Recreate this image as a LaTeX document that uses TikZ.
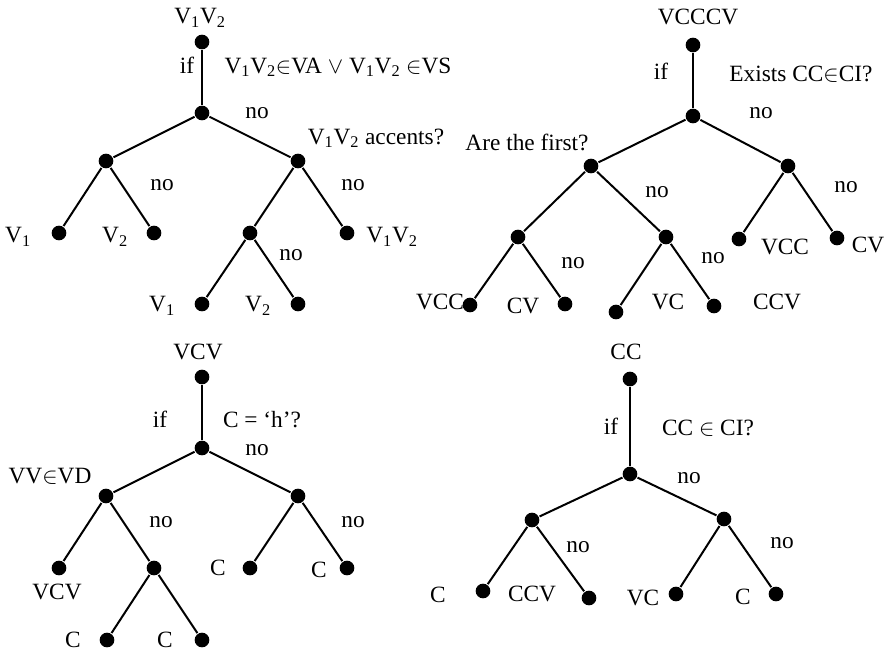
\documentclass[tikz,border=0pt]{standalone}
\usepackage{fontspec}
\setmainfont{Liberation Serif}

\tikzset{every picture/.style={line width=1.5pt}}
\tikzset{
  dot/.style={circle,fill=black,inner sep=0pt,minimum size=11pt},
  lbl/.style={inner sep=0.75pt,font=\fontsize{17.5}{20}\selectfont}
}

\begin{document}
\begin{tikzpicture}[x=0.75pt,y=0.75pt,yscale=-1,xscale=1]
\useasboundingbox (0,0) rectangle (892,651);
%%% Tree: V1V2 (top left)
% Dots
\node [dot] (a0) at (202,42) {};
\node [dot] (a1) at (202,113) {};
\node [dot] (aL) at (106,161) {};
\node [dot] (aR) at (298,161) {};
\node [dot] (aLL) at (59,233) {};
\node [dot] (aLR) at (154,233) {};
\node [dot] (aRL) at (250,233) {};
\node [dot] (aRR) at (347,233) {};
\node [dot] (aRLL) at (202,304) {};
\node [dot] (aRLR) at (298,304) {};
% Edges
\draw (a0) -- (a1);
\draw (a1) -- (aL);
\draw (a1) -- (aR);
\draw (aL) -- (aLL);
\draw (aL) -- (aLR);
\draw (aR) -- (aRL);
\draw (aR) -- (aRR);
\draw (aRL) -- (aRLL);
\draw (aRL) -- (aRLR);
% Text Node
\node [lbl] (ta0) at (200,18) {V\textsubscript{1}V\textsubscript{2}};
\node [lbl] (taif) at (187,65) {if};
\node [lbl] (taq1) at (338,67) {V\textsubscript{1}V\textsubscript{2}$\in$VA $\vee$ V\textsubscript{1}V\textsubscript{2} $\in$VS};
\node [lbl] (tano1) at (257,113) {no};
\node [lbl] (taq2) at (376,138) {V\textsubscript{1}V\textsubscript{2} accents?};
\node [lbl] (tano2) at (162,185) {no};
\node [lbl] (tano3) at (353,185) {no};
\node [lbl] (taLL) at (18,237) {V\textsubscript{1}};
\node [lbl] (taLR) at (115,237) {V\textsubscript{2}};
\node [lbl] (taRR) at (392,237) {V\textsubscript{1}V\textsubscript{2}};
\node [lbl] (tano4) at (291,255) {no};
\node [lbl] (taRLL) at (162,306) {V\textsubscript{1}};
\node [lbl] (taRLR) at (258,306) {V\textsubscript{2}};

%%% Tree: VCCCV (top right)
% Dots
\node [dot] (b0) at (693,45) {};
\node [dot] (b1) at (693,116) {};
\node [dot] (bL) at (591,166) {};
\node [dot] (bR) at (788,166) {};
\node [dot] (bLL) at (518,237) {};
\node [dot] (bLR) at (666,237) {};
\node [dot] (bRL) at (739,239) {};
\node [dot] (bRR) at (837,238) {};
\node [dot] (bLLL) at (470,305) {};
\node [dot] (bLLR) at (565,304) {};
\node [dot] (bLRL) at (616,312) {};
\node [dot] (bLRR) at (714,306) {};
% Edges
\draw (b0) -- (b1);
\draw (b1) -- (bL);
\draw (b1) -- (bR);
\draw (bL) -- (bLL);
\draw (bL) -- (bLR);
\draw (bR) -- (bRL);
\draw (bR) -- (bRR);
\draw (bLL) -- (bLLL);
\draw (bLL) -- (bLLR);
\draw (bLR) -- (bLRL);
\draw (bLR) -- (bLRR);
% Text Node
\node [lbl] (tb0) at (698,17) {VCCCV};
\node [lbl] (tbif) at (661,71) {if};
\node [lbl] (tbq1) at (801,74) {Exists CC$\in$CI?};
\node [lbl] (tbno1) at (761,113) {no};
\node [lbl] (tbq2) at (527,142) {Are the first?};
\node [lbl] (tbno2) at (657,192) {no};
\node [lbl] (tbno3) at (846,187) {no};
\node [lbl] (tbRL) at (785,247) {VCC};
\node [lbl] (tbRR) at (868,245) {CV};
\node [lbl] (tbno4) at (573,263) {no};
\node [lbl] (tbno5) at (713,258) {no};
\node [lbl] (tbLLL) at (440,302) {VCC};
\node [lbl] (tbLLR) at (523,306) {CV};
\node [lbl] (tbLRL) at (668,302) {VC};
\node [lbl] (tbLRR) at (777,302) {CCV};

%%% Tree: VCV (bottom left)
% Dots
\node [dot] (c0) at (202,377) {};
\node [dot] (c1) at (202,448) {};
\node [dot] (cL) at (106,496) {};
\node [dot] (cR) at (298,496) {};
\node [dot] (cLL) at (59,568) {};
\node [dot] (cLR) at (154,568) {};
\node [dot] (cRL) at (250,568) {};
\node [dot] (cRR) at (347,568) {};
\node [dot] (cLRL) at (107,640) {};
\node [dot] (cLRR) at (202,640) {};
% Edges
\draw (c0) -- (c1);
\draw (c1) -- (cL);
\draw (c1) -- (cR);
\draw (cL) -- (cLL);
\draw (cL) -- (cLR);
\draw (cR) -- (cRL);
\draw (cR) -- (cRR);
\draw (cLR) -- (cLRL);
\draw (cLR) -- (cLRR);
% Text Node
\node [lbl] (tc0) at (198,352) {VCV};
\node [lbl] (tcif) at (160,419) {if};
\node [lbl] (tcq1) at (262,420) {C = ‘h’?};
\node [lbl] (tcno1) at (257,450) {no};
\node [lbl] (tcq2) at (50,476) {VV$\in$VD};
\node [lbl] (tcno2) at (161,522) {no};
\node [lbl] (tcno3) at (353,522) {no};
\node [lbl] (tcRL) at (218,568) {C};
\node [lbl] (tcRR) at (319,570) {C};
\node [lbl] (tcLL) at (57,592) {VCV};
\node [lbl] (tcLRL) at (73,640) {C};
\node [lbl] (tcLRR) at (165,640) {C};

%%% Tree: CC (bottom right)
% Dots
\node [dot] (d0) at (630,379) {};
\node [dot] (d1) at (630,474) {};
\node [dot] (dL) at (532,520) {};
\node [dot] (dR) at (724,519) {};
\node [dot] (dLL) at (483,591) {};
\node [dot] (dLR) at (589,598) {};
\node [dot] (dRL) at (676,594) {};
\node [dot] (dRR) at (776,594) {};
% Edges
\draw (d0) -- (d1);
\draw (d1) -- (dL);
\draw (d1) -- (dR);
\draw (dL) -- (dLL);
\draw (dL) -- (dLR);
\draw (dR) -- (dRL);
\draw (dR) -- (dRR);
% Text Node
\node [lbl] (td0) at (626,352) {CC};
\node [lbl] (tdif) at (611,426) {if};
\node [lbl] (tdq1) at (708,428) {CC $\in$ CI?};
\node [lbl] (tdno1) at (689,478) {no};
\node [lbl] (tdno2) at (578,547) {no};
\node [lbl] (tdno3) at (782,543) {no};
\node [lbl] (tdLL) at (438,595) {C};
\node [lbl] (tdLR) at (532,594) {CCV};
\node [lbl] (tdRL) at (643,598) {VC};
\node [lbl] (tdRR) at (743,597) {C};
\end{tikzpicture}
\end{document}
